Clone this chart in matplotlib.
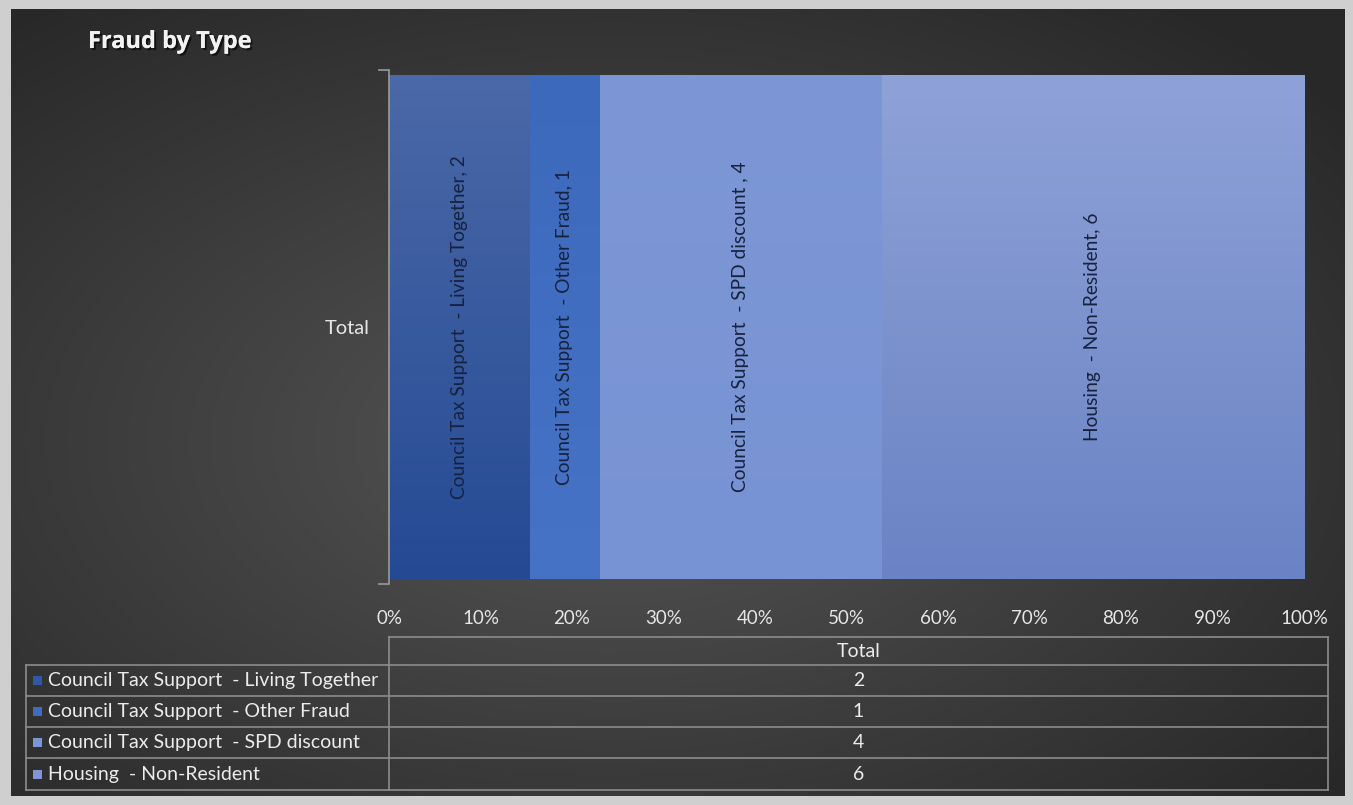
import numpy as np
import matplotlib
matplotlib.use("Agg")
import matplotlib.pyplot as plt
from matplotlib import patheffects as pe
from matplotlib.patches import Rectangle

# ---- data ----
categories = ["Council Tax Support  - Living Together",
              "Council Tax Support  - Other Fraud",
              "Council Tax Support  - SPD discount",
              "Housing  - Non-Resident"]
bar_labels = ["Council Tax Support  - Living Together, 2",
              "Council Tax Support  - Other Fraud, 1",
              "Council Tax Support  - SPD discount , 4",
              "Housing  - Non-Resident, 6"]
values = [2, 1, 4, 6]
row_label = "Total"
x_ticks = [0, 10, 20, 30, 40, 50, 60, 70, 80, 90, 100]
x_tick_labels = [f"{t}%" for t in x_ticks]

# colours (top, bottom) for gradient fills
top_cols = ["#4b69a8", "#3d69bd", "#7d97d6", "#8fa2d8"]
bot_cols = ["#254a94", "#4673c6", "#7893d3", "#6a83c4"]
legend_cols = ["#2f58a6", "#3f6cc0", "#7b96d6", "#8094d6"]

FONT = "Lato"
plt.rcParams['font.family'] = [FONT, 'DejaVu Sans']

W, H = 1353, 805
fig = plt.figure(figsize=(W / 100, H / 100), dpi=100)
fig.patch.set_facecolor("#cfcfcf")

def fx(px):
    return px / W

def fy(py):
    return 1 - py / H

# dark background panel with radial gradient
bg = fig.add_axes([fx(11), fy(796), fx(1345 - 11), (796 - 9) / H])
bg.set_axis_off()
yy, xx = np.mgrid[0:1:400j, 0:1:700j]
r = np.sqrt(((xx - 0.45) / 0.75) ** 2 + ((yy - 0.45) / 0.75) ** 2)
v = np.clip(0.335 - 0.19 * r, 0.16, 0.35)
bg.imshow(np.dstack([v, v, v]), aspect="auto", extent=[0, 1, 0, 1], origin="lower")
bg.set_xlim(0, 1)
bg.set_ylim(0, 1)

# main axes
ax = fig.add_axes([fx(389), fy(584), fx(1304 - 389), (584 - 70) / H])
ax.set_facecolor("none")
total = sum(values)
pct = [v_ / total * 100 for v_ in values]
lefts = np.concatenate([[0], np.cumsum(pct)[:-1]])
bars = ax.barh([0] * len(pct), pct, left=lefts, height=0.982, color=legend_cols,
               edgecolor="none", zorder=2)
ax.set_xlim(0, 100)
ax.set_ylim(-0.5, 0.5)

# gradient fill clipped to each bar
for b, tc, bc in zip(bars, top_cols, bot_cols):
    t = np.array(matplotlib.colors.to_rgb(tc))
    bo = np.array(matplotlib.colors.to_rgb(bc))
    g = np.linspace(0, 1, 256)[:, None]
    img = bo[None, :] * (1 - g) + t[None, :] * g
    img = np.repeat(img[:, None, :], 2, axis=1)
    x0, y0 = b.get_x(), b.get_y()
    im = ax.imshow(img, aspect="auto", origin="lower",
                   extent=[x0, x0 + b.get_width(), y0, y0 + b.get_height()], zorder=3)
    im.set_clip_path(b)
ax.set_xlim(0, 100)
ax.set_ylim(-0.5, 0.5)

# labels inside bars
for b, lab in zip(bars, bar_labels):
    cx = b.get_x() + b.get_width() / 2
    ax.text(cx, 0.0, lab, rotation=90, ha="center", va="center",
            fontsize=13.8, color="#16223f", zorder=5)

for s in ["top", "right", "bottom"]:
    ax.spines[s].set_visible(False)
ax.spines["left"].set_color("#9a9a9a")
ax.spines["left"].set_linewidth(1.2)
ax.spines["left"].set_zorder(6)

ax.set_xticks(x_ticks)
ax.set_xticklabels(x_tick_labels, fontsize=13.5, color="#e6e6e6")
ax.tick_params(axis="x", length=0, pad=19)
ax.set_yticks([0])
ax.set_yticklabels([row_label], fontsize=14.5, color="#e6e6e6")
ax.tick_params(axis="y", which="major", length=0, pad=14)
ax.set_yticks([-0.5, 0.5], minor=True)
ax.tick_params(axis="y", which="minor", length=8, color="#9a9a9a", width=1.2)

# title
fig.text(fx(88), fy(42), "Fraud by Type", fontsize=17, fontweight="bold",
         family=["Open Sans", "DejaVu Sans"],
         color="#f2f2f2", ha="left", va="center",
         path_effects=[pe.withSimplePatchShadow(offset=(1.5, -1.5), shadow_rgbFace="black", alpha=0.6),
                       pe.Normal()])

# data table
lc = "#8c8c8c"
lw = 1.2
row_y = [637, 665, 696, 727, 758, 790]
xl, xm, xr = 26, 389, 1328

def hline(py, x0, x1):
    fig.add_artist(plt.Line2D([fx(x0), fx(x1)], [fy(py), fy(py)], color=lc, lw=lw,
                              transform=fig.transFigure))

def vline(px, y0, y1):
    fig.add_artist(plt.Line2D([fx(px), fx(px)], [fy(y0), fy(y1)], color=lc, lw=lw,
                              transform=fig.transFigure))

hline(row_y[0], xm, xr)
for py in row_y[1:]:
    hline(py, xl, xr)
vline(xl, row_y[1], row_y[-1])
vline(xm, row_y[0], row_y[-1])
vline(xr, row_y[0], row_y[-1])

cxm = (xm + xr) / 2
fig.text(fx(cxm), fy((row_y[0] + row_y[1]) / 2), row_label, ha="center", va="center",
         fontsize=14, color="#ececec")
for i, (cat, val, col) in enumerate(zip(categories, values, legend_cols)):
    cy = (row_y[i + 1] + row_y[i + 2]) / 2
    fig.add_artist(Rectangle((fx(33), fy(cy + 4.5)), fx(9), 9 / H, transform=fig.transFigure,
                             facecolor=col, edgecolor="none"))
    fig.text(fx(48), fy(cy), cat, ha="left", va="center", fontsize=14, color="#ececec")
    fig.text(fx(cxm), fy(cy), str(val), ha="center", va="center", fontsize=14, color="#ececec")

fig.savefig("out.png", dpi=100, facecolor=fig.get_facecolor())
